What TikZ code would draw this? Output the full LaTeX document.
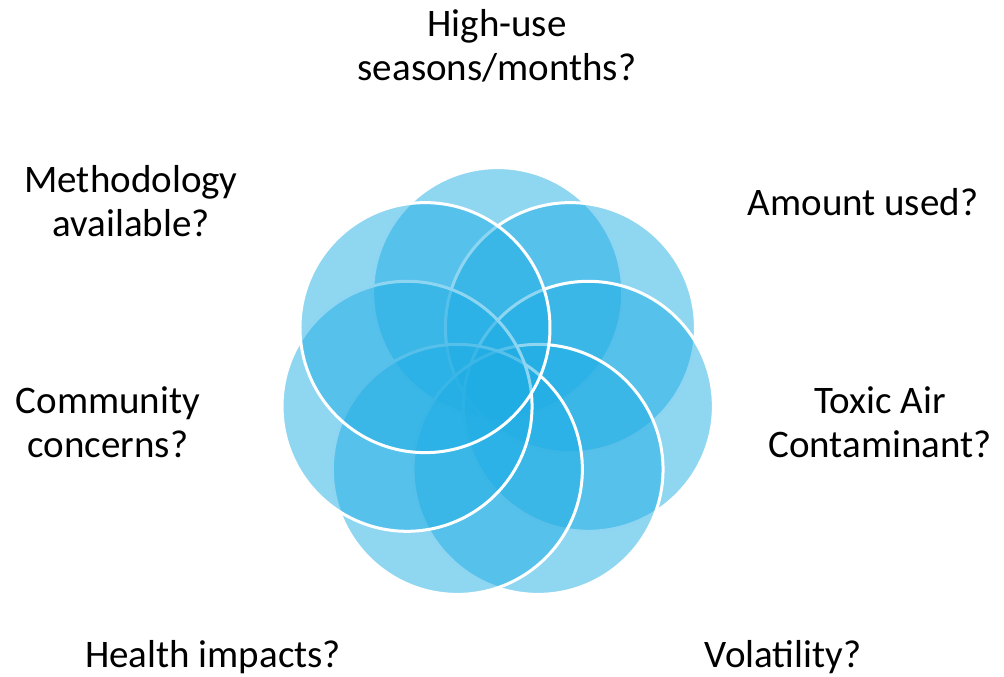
\documentclass[tikz,border=0pt]{standalone}
\usepackage{fontspec}
\setmainfont{Carlito}
\usepackage{tikz}
\usetikzlibrary{calc,positioning}
\definecolor{petalblue}{RGB}{31,173,228}
\newcommand \mypetal[1]
{
\filldraw[fill=petalblue,fill opacity=0.5,draw=white,line width=3pt] (#1) circle[radius=125pt];
}

\begin{document}
\begin{tikzpicture}[style={x=1pt,y=-1pt}, line join=round, every node/.style={font=\fontsize{39}{44}\selectfont,align=center,inner sep=0pt}]
\useasboundingbox (0,0) rectangle (1004,677);
\coordinate (O) at (497.7,385.6);
\coordinate (p1) at ($(O)+(-90:93)$);
\coordinate (p2) at ($(O)+(-38.57:93)$);
\coordinate (p3) at ($(O)+(12.86:93)$);
\coordinate (p4) at ($(O)+(64.29:93)$);
\coordinate (p5) at ($(O)+(115.71:93)$);
\coordinate (p6) at ($(O)+(167.14:93)$);
\coordinate (p7) at ($(O)+(218.57:93)$);
\mypetal{p1}
\mypetal{p2}
\mypetal{p3}
\mypetal{p4}
\mypetal{p5}
\mypetal{p6}
\mypetal{p7}
\node (hiuse)     at (497,46)  {High-use\\seasons/months?};
\node (amount)    at (863,202) {Amount used?};
\node (toxic)     at (880,422) {Toxic Air\\Contaminant?};
\node (volat)     at (783,657) {Volatility?};
\node (health)    at (213,657) {Health impacts?};
\node (community) at (108,422) {Community\\concerns?};
\node (method)    at (131,201) {Methodology\\available?};
\end{tikzpicture}
\end{document}
